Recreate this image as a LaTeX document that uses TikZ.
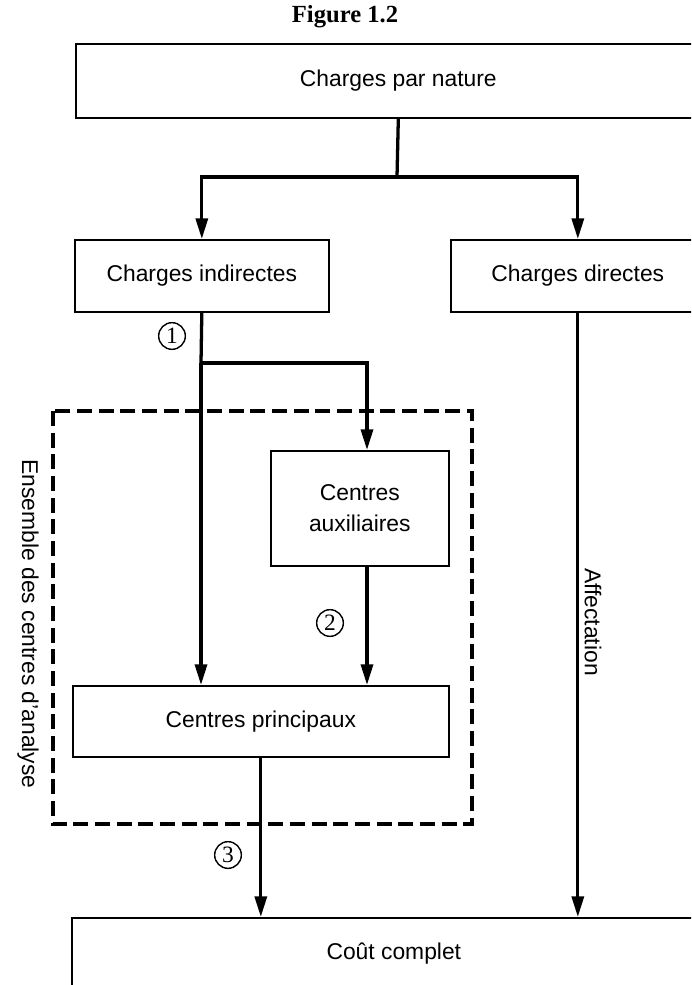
\documentclass[tikz,border=0pt]{standalone}
\usepackage{fontspec}
\setmainfont{Liberation Serif}
\setsansfont{Liberation Sans}
\usetikzlibrary{arrows.meta}
\newcommand{\pxu}{0.03cm}
\tikzset{
  box/.style={draw, line width=1.4pt, anchor=north west, inner sep=0pt, align=center, font=\sffamily\fontsize{19.5}{26}\selectfont},
  flow/.style={line width=2.8pt},
  arr/.style={flow, -{Triangle[length=0.62cm,width=0.36cm]}},
  frame/.style={line width=2.6pt, dash pattern=on 0.45cm off 0.2cm},
  num/.style={circle, draw, line width=1.2pt, inner sep=0pt, minimum size=0.8cm, font=\fontsize{20}{20}\selectfont},
  side/.style={font=\sffamily\fontsize{19.5}{22}\selectfont, rotate=-90}
}

\begin{document}
\begin{tikzpicture}[x=\pxu, y=-\pxu]
\useasboundingbox (0,0) rectangle (691,985);
\clip (0,0) rectangle (691,985);
\node[font=\bfseries\fontsize{21}{24}\selectfont] (title) at (345,17) {Figure 1.2};
\node[box, minimum width=645*\pxu, minimum height=74*\pxu] (nature) at (75,43) {Charges par nature};
\node[box, minimum width=254*\pxu, minimum height=72*\pxu] (indirect) at (74,239) {Charges indirectes};
\node[box, minimum width=254*\pxu, minimum height=72*\pxu] (direct) at (450,239) {Charges directes};
\node[box, minimum width=178*\pxu, minimum height=115*\pxu] (aux) at (270,450) {Centres\\auxiliaires};
\node[box, minimum width=376*\pxu, minimum height=71*\pxu] (principal) at (72,685) {Centres principaux};
\node[box, minimum width=644*\pxu, minimum height=72*\pxu] (cout) at (71,917) {Coût complet};
\draw[frame] (53,411) rectangle (472,824);
\node[side] (ensemble) at (28,624) {Ensemble des centres d'analyse};
\node[side] (affect) at (593,622) {Affectation};
\coordinate (fork) at (397,177);
\coordinate (split) at (201,363);
\coordinate (splitR) at (367,363);
\draw[flow] (nature.south) -- (fork);
\draw[arr] (fork) -| (indirect.north);
\draw[arr] (fork) -| (direct.north);
\draw[flow] (indirect.south) -- (split);
\draw[arr] (split) -- (split |- principal.north);
\draw[arr] (split) -- (splitR) -- (splitR |- aux.north);
\draw[arr] (splitR |- aux.south) -- (splitR |- principal.north);
\draw[arr] (principal.south) -- (principal.south |- cout.north);
\draw[arr] (direct.south) -- (direct.south |- cout.north);
\node[num] (n1) at (172,336) {1};
\node[num] (n2) at (330,623) {2};
\node[num] (n3) at (228,855) {3};
\end{tikzpicture}
\end{document}
